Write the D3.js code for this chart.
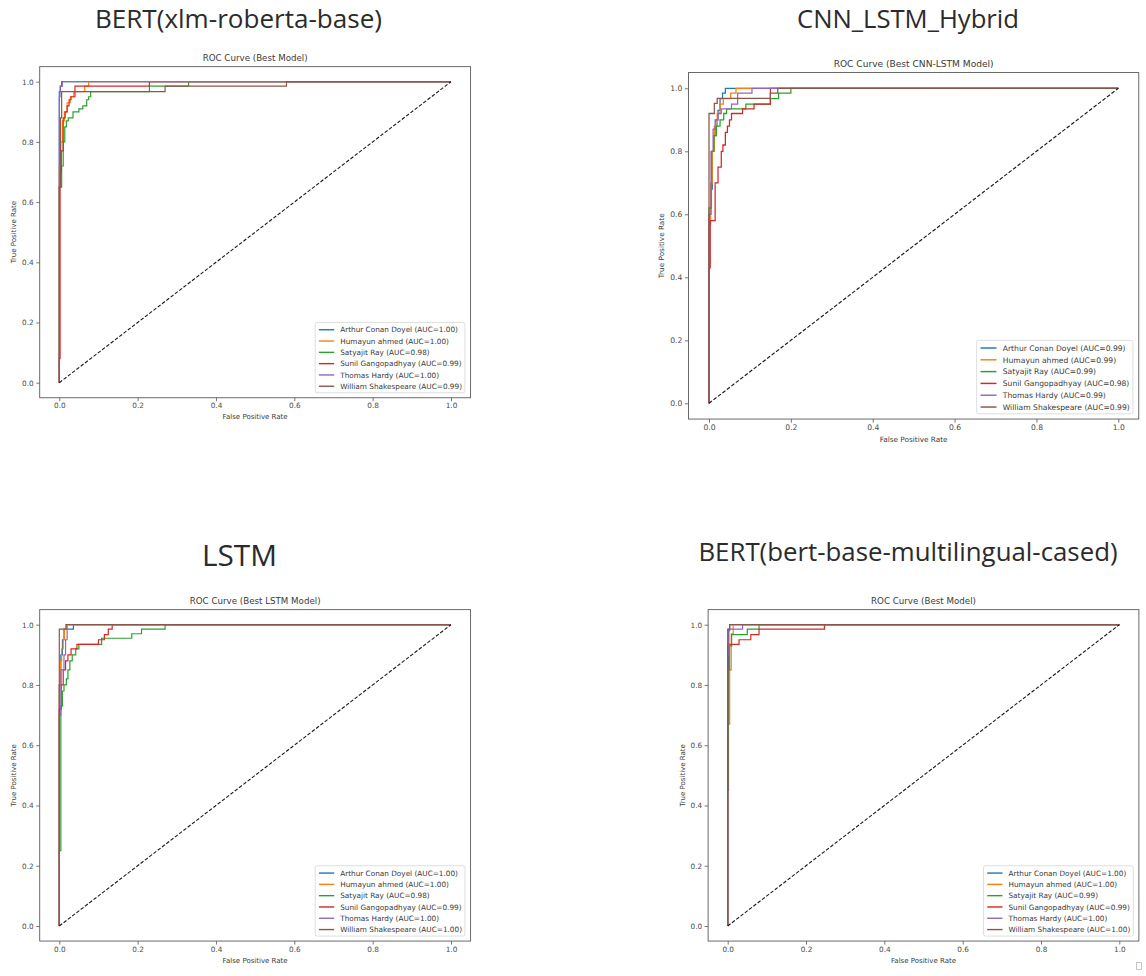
<!DOCTYPE html>
<html><head><meta charset="utf-8">
<script src="https://cdn.jsdelivr.net/npm/d3@7"></script>
<style>body{margin:0;background:#fff}svg{display:block}</style>
</head><body>
<svg id="c" width="1146" height="976"></svg>
<script>
// ---------------- data ----------------
const authors = ["Arthur Conan Doyel","Humayun ahmed","Satyajit Ray","Sunil Gangopadhyay","Thomas Hardy","William Shakespeare"];
const seriesColors = ["#1f77b4","#ff7f0e","#2ca02c","#d62728","#9467bd","#8c564b"];
const tickValues = [0,0.2,0.4,0.6,0.8,1.0];
const panelHeadlines = ["BERT(xlm-roberta-base)","CNN_LSTM_Hybrid","LSTM","BERT(bert-base-multilingual-cased)"];
const plotTitles = ["ROC Curve (Best Model)","ROC Curve (Best CNN-LSTM Model)","ROC Curve (Best LSTM Model)","ROC Curve (Best Model)"];
const xLabel = "False Positive Rate";
const yLabel = "True Positive Rate";

const aucXlmRoberta = [1.00,1.00,0.98,0.99,1.00,0.99];
const aucCnnLstm    = [0.99,0.99,0.99,0.98,0.99,0.99];
const aucLstm       = [1.00,1.00,0.98,0.99,1.00,1.00];
const aucBertMulti  = [1.00,1.00,0.99,0.99,1.00,1.00];

// ROC vertices [fpr, tpr] per author (same order as authors)
const rocXlmRoberta = [
  [[0,0],[0,0.967],[0.003,0.967],[0.003,0.985],[0.006,0.985],[0.006,1],[1,1]],
  [[0,0],[0,0.72],[0.004,0.72],[0.004,0.8],[0.008,0.8],[0.008,0.87],[0.013,0.87],[0.013,0.9],[0.02,0.9],[0.02,0.93],[0.028,0.93],[0.028,0.95],[0.037,0.95],[0.037,0.967],[0.065,0.967],[0.065,0.985],[0.075,0.985],[0.075,1],[1,1]],
  [[0,0],[0,0.65],[0.006,0.65],[0.006,0.72],[0.01,0.72],[0.01,0.8],[0.014,0.8],[0.014,0.85],[0.018,0.85],[0.018,0.87],[0.023,0.87],[0.023,0.88],[0.035,0.88],[0.035,0.9],[0.05,0.9],[0.05,0.91],[0.06,0.91],[0.06,0.92],[0.07,0.92],[0.07,0.94],[0.075,0.94],[0.075,0.95],[0.08,0.95],[0.08,0.967],[0.23,0.967],[0.23,0.985],[0.33,0.985],[0.33,1],[1,1]],
  [[0,0],[0,0.08],[0.002,0.08],[0.002,0.7],[0.005,0.7],[0.005,0.77],[0.01,0.77],[0.01,0.88],[0.015,0.88],[0.015,0.9],[0.02,0.9],[0.02,0.92],[0.025,0.92],[0.025,0.94],[0.03,0.94],[0.03,0.95],[0.04,0.95],[0.04,0.985],[0.23,0.985],[0.23,1],[1,1]],
  [[0,0],[0,0.95],[0.002,0.95],[0.002,0.985],[0.008,0.985],[0.008,1],[1,1]],
  [[0,0],[0,0.65],[0.003,0.65],[0.003,0.88],[0.006,0.88],[0.006,0.967],[0.12,0.967],[0.27,0.967],[0.27,0.985],[0.58,0.985],[0.58,1],[1,1]]
];
const rocCnnLstm = [
  [[0,0],[0,0.6],[0.004,0.6],[0.004,0.68],[0.008,0.68],[0.008,0.8],[0.012,0.8],[0.012,0.85],[0.017,0.85],[0.017,0.9],[0.022,0.9],[0.022,0.93],[0.027,0.93],[0.027,0.967],[0.033,0.967],[0.033,0.985],[0.04,0.985],[0.04,1],[1,1]],
  [[0,0],[0,0.57],[0.004,0.57],[0.004,0.7],[0.008,0.7],[0.008,0.8],[0.013,0.8],[0.013,0.88],[0.02,0.88],[0.02,0.92],[0.027,0.92],[0.027,0.95],[0.035,0.95],[0.035,0.967],[0.053,0.967],[0.053,0.985],[0.066,0.985],[0.066,1],[1,1]],
  [[0,0],[0,0.62],[0.006,0.62],[0.006,0.8],[0.012,0.8],[0.012,0.85],[0.018,0.85],[0.018,0.88],[0.027,0.88],[0.027,0.9],[0.036,0.9],[0.036,0.92],[0.043,0.92],[0.043,0.935],[0.09,0.935],[0.09,0.95],[0.15,0.95],[0.15,0.967],[0.17,0.967],[0.17,0.985],[0.2,0.985],[0.2,1],[1,1]],
  [[0,0],[0,0.43],[0.003,0.43],[0.003,0.58],[0.015,0.58],[0.015,0.7],[0.022,0.7],[0.022,0.75],[0.03,0.75],[0.03,0.8],[0.034,0.8],[0.034,0.82],[0.04,0.82],[0.04,0.86],[0.045,0.86],[0.045,0.88],[0.05,0.88],[0.05,0.9],[0.055,0.9],[0.055,0.92],[0.082,0.92],[0.082,0.935],[0.11,0.935],[0.11,0.95],[0.15,0.95],[0.15,1],[1,1]],
  [[0,0],[0,0.6],[0.005,0.6],[0.005,0.8],[0.01,0.8],[0.01,0.87],[0.015,0.87],[0.015,0.9],[0.022,0.9],[0.022,0.92],[0.03,0.92],[0.03,0.935],[0.055,0.935],[0.055,0.95],[0.07,0.95],[0.07,0.985],[0.105,0.985],[0.105,1],[1,1]],
  [[0,0],[0,0.92],[0.013,0.92],[0.013,0.952],[0.02,0.952],[0.02,0.968],[0.15,0.968],[0.15,0.985],[0.168,0.985],[0.168,1],[1,1]]
];
const rocLstm = [
  [[0,0],[0,0.8],[0.004,0.8],[0.004,0.9],[0.008,0.9],[0.008,0.95],[0.012,0.95],[0.012,0.985],[0.036,0.985],[0.036,1],[1,1]],
  [[0,0],[0,0.8],[0.003,0.8],[0.003,0.88],[0.006,0.88],[0.006,0.92],[0.01,0.92],[0.01,0.95],[0.013,0.95],[0.013,0.985],[0.018,0.985],[0.018,1],[1,1]],
  [[0,0],[0,0.25],[0.004,0.25],[0.004,0.73],[0.008,0.73],[0.008,0.78],[0.012,0.78],[0.012,0.8],[0.018,0.8],[0.018,0.82],[0.022,0.82],[0.022,0.85],[0.027,0.85],[0.027,0.88],[0.033,0.88],[0.033,0.9],[0.042,0.9],[0.042,0.92],[0.05,0.92],[0.05,0.935],[0.108,0.935],[0.108,0.955],[0.185,0.955],[0.185,0.97],[0.21,0.97],[0.21,0.985],[0.27,0.985],[0.27,1],[1,1]],
  [[0,0],[0,0.72],[0.005,0.72],[0.005,0.8],[0.01,0.8],[0.01,0.85],[0.016,0.85],[0.016,0.88],[0.022,0.88],[0.022,0.9],[0.03,0.9],[0.03,0.92],[0.045,0.92],[0.045,0.935],[0.1,0.935],[0.1,0.95],[0.115,0.95],[0.115,0.967],[0.125,0.967],[0.125,0.985],[0.135,0.985],[0.135,1],[1,1]],
  [[0,0],[0,0.7],[0.004,0.7],[0.004,0.85],[0.012,0.85],[0.012,0.9],[0.016,0.9],[0.016,0.95],[0.02,0.95],[0.02,1],[1,1]],
  [[0,0],[0,0.985],[0.017,0.985],[0.017,1],[1,1]]
];
const rocBertMulti = [
  [[0,0],[0,0.85],[0.002,0.85],[0.002,0.98],[0.005,0.98],[0.005,1],[1,1]],
  [[0,0],[0,0.67],[0.005,0.67],[0.005,0.85],[0.009,0.85],[0.009,0.97],[0.014,0.97],[0.014,1],[1,1]],
  [[0,0],[0,0.45],[0.002,0.45],[0.002,0.85],[0.005,0.85],[0.005,0.93],[0.01,0.93],[0.01,0.967],[0.05,0.967],[0.05,0.985],[0.08,0.985],[0.08,1],[1,1]],
  [[0,0],[0,0.935],[0.029,0.935],[0.029,0.95],[0.059,0.95],[0.059,0.967],[0.08,0.967],[0.08,0.985],[0.247,0.985],[0.247,1],[1,1]],
  [[0,0],[0,0.9],[0.003,0.9],[0.003,0.985],[0.038,0.985],[0.038,1],[1,1]],
  [[0,0],[0,0.985],[0.005,0.985],[0.005,1],[1,1]]
];

const panelRocs = [rocXlmRoberta, rocCnnLstm, rocLstm, rocBertMulti];
const panelAucs = [aucXlmRoberta, aucCnnLstm, aucLstm, aucBertMulti];

// ---------------- layout ----------------
const layout = [
  {x0:59.3, x1:451,    y0:382.7, y1:81.7,  k:1.0,   head:{cx:238.5, base:28.3, w:287}},
  {x0:709,  x1:1118.3, y0:403.3, y1:88.3,  k:1.045, head:{cx:908,   base:28.3, w:222}},
  {x0:59.3, x1:451,    y0:926,   y1:624.7, k:1.0,   head:{cx:239.5, base:566,  w:75}},
  {x0:727.7,x1:1119.3, y0:926,   y1:624.7, k:1.0,   head:{cx:908,   base:560.5,w:419}}
];

const svg = d3.select("#c");
svg.append("rect").attr("width",1146).attr("height",976).attr("fill","#fff");
const FONT = "DejaVu Sans, sans-serif";

function fitText(sel, target){
  const node = sel.node();
  let fs = parseFloat(sel.attr("font-size"));
  for (let i=0;i<3;i++){
    const w = node.getComputedTextLength();
    if (w>0){ fs = fs*target/w; sel.attr("font-size", fs); }
  }
}

panelRocs.forEach((rocs, pi) => {
  const L = layout[pi], k = L.k;
  const x = d3.scaleLinear().domain([0,1]).range([L.x0, L.x1]);
  const y = d3.scaleLinear().domain([0,1]).range([L.y0, L.y1]);
  const fl = x(-0.05), fr = x(1.05), ft = y(1.05), fb = y(-0.05);
  const g = svg.append("g");

  const h = svg.append("text").attr("x", L.head.cx).attr("y", L.head.base)
    .attr("text-anchor","middle").attr("font-family","Open Sans, sans-serif")
    .attr("font-size", 25).attr("fill","#2b2b2b").text(panelHeadlines[pi]);
  fitText(h, L.head.w);

  g.append("text").attr("x",(fl+fr)/2).attr("y", ft-5.5*k).attr("text-anchor","middle")
    .attr("font-family",FONT).attr("font-size",8.7*k).attr("fill","#3a3a3a").text(plotTitles[pi]);

  const clipId = "clip"+pi;
  g.append("clipPath").attr("id",clipId).append("rect")
    .attr("x",fl).attr("y",ft).attr("width",fr-fl).attr("height",fb-ft);

  const line = d3.line().x(d=>x(d[0])).y(d=>y(d[1]));
  const cg = g.append("g").attr("clip-path",`url(#${clipId})`);
  rocs.forEach((pts, si) => {
    cg.append("path").attr("d", line(pts)).attr("fill","none")
      .attr("stroke", seriesColors[si]).attr("stroke-width",1.2*k)
      .attr("stroke-linejoin","miter");
  });
  cg.append("path").attr("d", line([[0,0],[1,1]])).attr("fill","none")
    .attr("stroke","#1a1a1a").attr("stroke-width",1.1*k).attr("stroke-dasharray",`${3.6*k},${1.8*k}`);

  const xa = g.append("g").attr("transform",`translate(0,${fb})`)
    .call(d3.axisBottom(x).tickValues(tickValues).tickFormat(d3.format(".1f")).tickSize(3.5*k).tickPadding(2*k));
  const ya = g.append("g").attr("transform",`translate(${fl},0)`)
    .call(d3.axisLeft(y).tickValues(tickValues).tickFormat(d3.format(".1f")).tickSize(3.5*k).tickPadding(2.5*k));
  [xa,ya].forEach(a=>{
    a.select(".domain").remove();
    a.selectAll(".tick line").attr("stroke","#555").attr("stroke-width",0.8);
    a.selectAll(".tick text").attr("font-family",FONT).attr("font-size",7.3*k).attr("fill","#4a4a4a");
  });

  g.append("rect").attr("x",fl).attr("y",ft).attr("width",fr-fl).attr("height",fb-ft)
    .attr("fill","none").attr("stroke","#5a5a5a").attr("stroke-width",0.9);

  g.append("text").attr("x",(fl+fr)/2).attr("y",fb+21.5*k).attr("text-anchor","middle")
    .attr("font-family",FONT).attr("font-size",7*k).attr("fill","#3a3a3a").text(xLabel);
  g.append("text").attr("transform",`translate(${fl-23.5*k},${(ft+fb)/2}) rotate(-90)`)
    .attr("text-anchor","middle").attr("font-family",FONT).attr("font-size",7*k).attr("fill","#3a3a3a").text(yLabel);

  const lg = g.append("g");
  const rowH = 11.3*k;
  const labels = authors.map((a,i)=>`${a} (AUC=${panelAucs[pi][i].toFixed(2)})`);
  const box = lg.append("rect");
  const texts = labels.map((t,i)=> lg.append("text").attr("font-family",FONT)
      .attr("font-size",7.3*k).attr("fill","#3a3a3a").text(t));
  const maxW = d3.max(texts, t=>t.node().getComputedTextLength());
  const boxR = fr-5.6*k, boxB = fb-5*k;
  const boxW = maxW + 28*k, boxH = rowH*6 + 2.5*k;
  const boxL = boxR-boxW, boxT = boxB-boxH;
  box.attr("x",boxL).attr("y",boxT).attr("width",boxW).attr("height",boxH)
    .attr("rx",2).attr("fill","#fff").attr("fill-opacity",0.85).attr("stroke","#d6d6d6").attr("stroke-width",0.8);
  texts.forEach((t,i)=>{
    const cy = boxT + 7.3*k + i*rowH;
    t.attr("x", boxL+25*k).attr("y", cy+2.6*k);
    lg.append("line").attr("x1",boxL+3.7*k).attr("x2",boxL+19*k).attr("y1",cy).attr("y2",cy)
      .attr("stroke",seriesColors[i]).attr("stroke-width",1.4*k);
  });
});

svg.append("rect").attr("x",1136.5).attr("y",962.5).attr("width",5).attr("height",7)
  .attr("fill","none").attr("stroke","#c8c8c8").attr("stroke-width",1);
</script>
</body></html>
